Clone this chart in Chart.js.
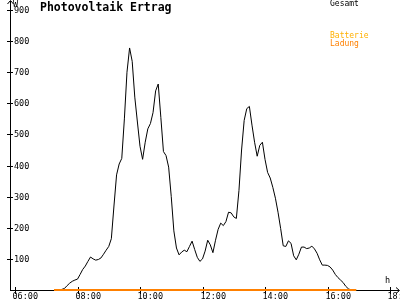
<!DOCTYPE html>
<html><head><meta charset="utf-8">
<script src="https://cdn.jsdelivr.net/npm/chart.js@4/dist/chart.umd.min.js"></script>
<style>html,body{margin:0;padding:0;background:#fff}canvas{display:block}</style>
</head><body>
<canvas id="c" width="400" height="300"></canvas>
<script>
const titleText = "Photovoltaik Ertrag";
const seriesNames = ["Gesamt", "Batterie", "Ladung"];
const startTime = "07:15";
const stepMinutes = 5;
const gesamt = [0,0,0,2,5,14,22,28,32,
35,50,66,77,92,106,100,96,98,103,115,128,
140,165,270,370,405,423,550,700,778,735,620,540,
462,420,475,518,535,570,640,662,555,445,432,395,
300,190,135,113,122,128,123,140,157,130,105,92,
100,125,160,145,120,160,195,215,207,220,250,248,
235,230,320,450,545,583,590,530,475,430,465,475,
420,378,360,330,295,250,198,142,140,158,150,110,
97,115,138,138,133,135,141,132,118,97,80,80,
79,74,64,50,40,32,24,12,4,0,0,0];
const batterie = gesamt.map(() => 0);
const ladung = gesamt.map(() => 0);
const yTicks = [100,200,300,400,500,600,700,800,900];
const xTickLabels = ["06:00","08:00","10:00","12:00","14:00","16:00","18:00"];

function toHours(s){const p=s.split(":");return +p[0]+(+p[1])/60;}
const t0 = toHours(startTime);
const times = gesamt.map((_,i)=>t0+i*stepMinutes/60);
const pts = arr => arr.map((v,i)=>({x:times[i],y:v}));

const colors = ["#000000","#ffb000","#ff8000"];
const mono = '"DejaVu Sans Mono", monospace';

const axesPlugin = {
  id:'axes',
  beforeDatasetsDraw(chart){
    const ctx=chart.ctx, xs=chart.scales.x, ys=chart.scales.y;
    const x0=xs.getPixelForValue(xs.min), y0=ys.getPixelForValue(0);
    ctx.save();
    ctx.strokeStyle="#000"; ctx.fillStyle="#000"; ctx.lineWidth=1;
    ctx.beginPath();
    ctx.moveTo(x0+0.5,y0); ctx.lineTo(x0+0.5,1);
    ctx.moveTo(x0,y0+0.5); ctx.lineTo(399,y0+0.5);
    // arrows
    ctx.moveTo(x0-2.5,4); ctx.lineTo(x0+0.5,0.5); ctx.lineTo(x0+3.5,4);
    ctx.moveTo(396,y0-2.5); ctx.lineTo(399.5,y0+0.5); ctx.lineTo(396,y0+3.5);
    ctx.stroke();
    ctx.font='8.5px '+mono; ctx.textBaseline='middle'; ctx.textAlign='left';
    yTicks.forEach(v=>{
      const y=Math.round(ys.getPixelForValue(v))+0.5;
      ctx.beginPath(); ctx.moveTo(x0-3,y); ctx.lineTo(x0+3,y); ctx.stroke();
      ctx.fillText(String(v), x0+4, y);
    });
    ctx.textBaseline='top';
    xTickLabels.forEach(l=>{
      const x=Math.round(xs.getPixelForValue(toHours(l)))+0.5;
      ctx.beginPath(); ctx.moveTo(x,y0-3); ctx.lineTo(x,y0+4); ctx.stroke();
      ctx.fillText(l, x-3, y0+3);
    });
    ctx.fillText("W", x0+3, 1);
    ctx.fillText("h", 385, 277);
    ctx.restore();
  },
  afterDraw(chart){
    const ctx=chart.ctx;
    ctx.save();
    ctx.font='bold 11.5px '+mono; ctx.textBaseline='top'; ctx.textAlign='left'; ctx.fillStyle="#000";
    ctx.fillText(titleText, 40, 2);
    ctx.font='8px '+mono;
    const ly=[0,32,40];
    seriesNames.forEach((n,i)=>{ctx.fillStyle=colors[i]; ctx.fillText(n,330,ly[i]);});
    ctx.restore();
  }
};

new Chart(document.getElementById('c'),{
  type:'line',
  data:{datasets:[
    {label:seriesNames[0],data:pts(gesamt),borderColor:colors[0],borderWidth:1,pointRadius:0,tension:0,order:2,clip:5},
    {label:seriesNames[1],data:pts(batterie),borderColor:colors[1],borderWidth:2,pointRadius:0,tension:0,order:1,clip:5},
    {label:seriesNames[2],data:pts(ladung),borderColor:colors[2],borderWidth:2,pointRadius:0,tension:0,order:0,clip:5}
  ]},
  options:{
    responsive:false,animation:false,
    layout:{padding:{left:10,right:0,top:10,bottom:10}},
    plugins:{legend:{display:false},tooltip:{enabled:false},title:{display:false}},
    scales:{
      x:{type:'linear',display:false,min:6-5/31.25,max:18+10/31.25},
      y:{display:false,min:0,max:900}
    }
  },
  plugins:[axesPlugin]
});
</script>
</body></html>
